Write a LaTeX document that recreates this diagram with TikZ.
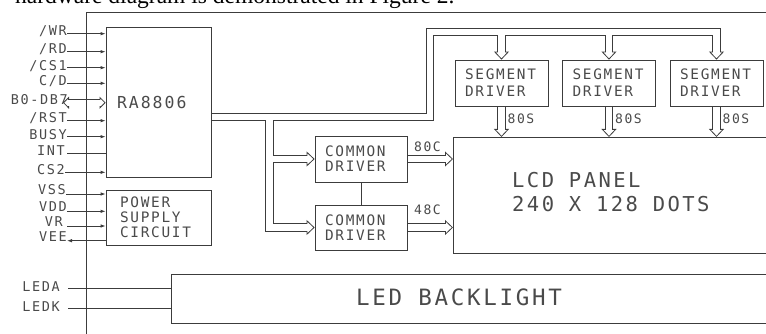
\documentclass[tikz,border=0pt]{standalone}
\usepackage{fontspec}
\newfontfamily\cadfont{DejaVu Sans Mono}[LetterSpace=12]
\newfontfamily\bodyfont{Liberation Serif}
\usetikzlibrary{arrows.meta,calc}
\definecolor{ink}{HTML}{3C3C3C}
\definecolor{inktext}{HTML}{4A4A4A}

\begin{document}
\begin{tikzpicture}[x=1pt,y=-1pt,text=inktext,
  wire/.style={draw=ink,line width=0.8pt},
  sig/.style={wire,-{Latex[length=5pt,width=3.5pt]}},
  blk/.style={wire,align=left},
  lbl/.style={font=\cadfont\fontsize{13.5}{15}\selectfont,inner sep=0pt,anchor=east},
  tag/.style={font=\cadfont\fontsize{13}{15}\selectfont,inner sep=0pt,anchor=west},
  pipeo/.style={draw=ink,line width=8.3pt,line join=miter},
  pipei/.style={draw=white,line width=6.7pt,line join=miter},
  hol/.tip={Triangle[open,length=8pt,width=15pt,line width=0.8pt]},
  dbl/.tip={Triangle[open,length=6pt,width=12pt,line width=0.8pt]}]
  \useasboundingbox (0,0) rectangle (766,334);
  \clip (0,0) rectangle (766,334);
  \node[anchor=base west,inner sep=0pt,text=black,font=\bodyfont\fontsize{23.5}{26}\selectfont] (intro) at (15,4) {hardware diagram is demonstrated in Figure 2.};
  % blocks
  \node[blk,minimum width=105pt,minimum height=150pt,text width=83pt,inner xsep=11pt,font=\cadfont\fontsize{16.5}{18}\selectfont] (ra) at (158.5,102) {RA8806};
  \node[blk,minimum width=105pt,minimum height=55pt,text width=77pt,inner xsep=14pt,font=\cadfont\fontsize{14.4}{15}\selectfont] (pwr) at (158.5,217.5) {POWER\\SUPPLY\\CIRCUIT};
  \node[blk,minimum width=92pt,minimum height=46pt,text width=72pt,inner xsep=10pt,font=\cadfont\fontsize{14.4}{15}\selectfont] (com1) at (361,159) {COMMON\\DRIVER};
  \node[blk,minimum width=92pt,minimum height=45pt,text width=72pt,inner xsep=10pt,font=\cadfont\fontsize{14.4}{15}\selectfont] (com2) at (361,227.5) {COMMON\\DRIVER};
  \node[blk,minimum width=93pt,minimum height=46pt,text width=73pt,inner xsep=10pt,font=\cadfont\fontsize{14.4}{17}\selectfont] (seg1) at (501.5,83) {SEGMENT\\DRIVER};
  \node[blk,minimum width=93pt,minimum height=46pt,text width=73pt,inner xsep=10pt,font=\cadfont\fontsize{14.4}{17}\selectfont] (seg2) at (609,83) {SEGMENT\\DRIVER};
  \node[blk,minimum width=93pt,minimum height=46pt,text width=73pt,inner xsep=10pt,font=\cadfont\fontsize{14.4}{17}\selectfont] (seg3) at (716.5,83) {SEGMENT\\DRIVER};
  \node[blk,anchor=north west,minimum width=360pt,minimum height=116pt] (lcd) at (453,137) {};
  \node[anchor=west,align=left,inner sep=0pt,font=\cadfont\fontsize{20.5}{24}\selectfont] (lcdtxt) at (512,192) {LCD PANEL\\240 X 128 DOTS};
  \node[blk,anchor=north west,minimum width=620pt,minimum height=49pt] (bl) at (171,274) {};
  \node[font=\cadfont\fontsize{22.5}{24}\selectfont] (bltxt) at (459,297) {LED BACKLIGHT};
  \draw[wire] (com1) -- (com2);
  % controller pins
  \node[lbl] (wr) at (67,31) {/WR};
  \node[lbl] (rd) at (67,49) {/RD};
  \node[lbl] (cs1) at (67,66) {/CS1};
  \node[lbl] (cd) at (67,81) {C/D};
  \node[lbl] (db) at (68,100) {B0-DB7};
  \node[lbl] (rst) at (67,118) {/RST};
  \node[lbl] (busy) at (67,135) {BUSY};
  \node[lbl] (int) at (65,151) {INT};
  \node[lbl] (cs2) at (65,170) {CS2};
  \draw[sig] (wr.east |- 0,33.7) -- (ra.west |- 0,33.7);
  \draw[sig] (rd.east |- 0,51.7) -- (ra.west |- 0,51.7);
  \draw[sig] (cs1.east |- 0,67.7) -- (ra.west |- 0,67.7);
  \draw[sig] (cd.east |- 0,83.3) -- (ra.west |- 0,83.3);
  \draw[sig] (rst.east |- 0,120.7) -- (ra.west |- 0,120.7);
  \draw[sig] (busy.east |- 0,136.7) -- (ra.west |- 0,136.7);
  \draw[wire] ($(int.east |- 0,153.3)+(2,0)$) -- (ra.west |- 0,153.3);
  \draw[sig] (cs2.east |- 0,172.3) -- (ra.west |- 0,172.3);
  % power pins
  \node[lbl] (vss) at (66,190) {VSS};
  \node[lbl] (vdd) at (67,207) {VDD};
  \node[lbl] (vr) at (63,222) {VR};
  \node[lbl] (vee) at (67,237) {VEE};
  \draw[sig] (vss.east |- 0,194) -- (pwr.west |- 0,194);
  \draw[sig] (vdd.east |- 0,211.3) -- (pwr.west |- 0,211.3);
  \draw[sig] ($(vr.east |- 0,226)+(4,0)$) -- (pwr.west |- 0,226);
  \draw[sig] (pwr.west |- 0,240.7) -- (vee.east |- 0,240.7);
  % backlight pins
  \node[lbl] (leda) at (60,286.5) {LEDA};
  \node[lbl] (ledk) at (60,307) {LEDK};
  \draw[wire] ($(leda.east |- 0,288.3)+(8,0)$) -- (bl.west |- 0,288.3);
  \draw[wire] ($(ledk.east |- 0,308.3)+(8,0)$) -- (bl.west |- 0,308.3);
  % hollow buses, outline first
  \coordinate (dbend) at (63,102.7);
  \draw[draw=ink,line width=7.3pt,dbl-dbl] (dbend) -- (ra.west |- dbend);
  \draw[pipeo,-hol] (ra.east |- 0,117) -- (430,117) -- (430,32) -- (seg3.north |- 0,32) -- (seg3.north);
  \draw[pipeo,-hol] (seg1.north |- 0,32) -- (seg1.north);
  \draw[pipeo,-hol] (seg2.north |- 0,32) -- (seg2.north);
  \draw[pipeo,-hol] (269.5,117) -- (269.5,227.5) -- (com2.west);
  \draw[pipeo,-hol] (269.5,159) -- (com1.west);
  \draw[pipeo,-hol] (com1.east) -- (com1.east -| lcd.west);
  \draw[pipeo,-hol] (com2.east) -- (com2.east -| lcd.west);
  \draw[pipeo,-hol] (seg1.south) -- (seg1.south |- lcd.north);
  \draw[pipeo,-hol] (seg2.south) -- (seg2.south |- lcd.north);
  \draw[pipeo,-hol] (seg3.south) -- (seg3.south |- lcd.north);
  % then hollow them out
  \draw[draw=white,line width=5.7pt] ($(dbend)+(5,0)$) -- ($(ra.west |- dbend)+(-5,0)$);
  \draw[pipei] ($(ra.east |- 0,117)+(0.6,0)$) -- (430,117) -- (430,32) -- (seg3.north |- 0,32) -- ($(seg3.north)+(0,-7)$)
    (seg1.north |- 0,32) -- ($(seg1.north)+(0,-7)$)
    (seg2.north |- 0,32) -- ($(seg2.north)+(0,-7)$)
    (269.5,117) -- (269.5,227.5) -- ($(com2.west)+(-7,0)$)
    (269.5,159) -- ($(com1.west)+(-7,0)$)
    ($(com1.east)+(0.6,0)$) -- ($(com1.east -| lcd.west)+(-7,0)$)
    ($(com2.east)+(0.6,0)$) -- ($(com2.east -| lcd.west)+(-7,0)$)
    ($(seg1.south)+(0,0.6)$) -- ($(seg1.south |- lcd.north)+(0,-7)$)
    ($(seg2.south)+(0,0.6)$) -- ($(seg2.south |- lcd.north)+(0,-7)$)
    ($(seg3.south)+(0,0.6)$) -- ($(seg3.south |- lcd.north)+(0,-7)$);
  % outer frame on top
  \draw[wire] (86,340) -- (86,12) -- (790,12);
  % bus widths
  \node[tag] (w1) at (507.5,119) {80S};
  \node[tag] (w2) at (615,119) {80S};
  \node[tag] (w3) at (722.5,119) {80S};
  \node[tag] (c1) at (414,146.7) {80C};
  \node[tag] (c2) at (414,210) {48C};
\end{tikzpicture}
\end{document}
